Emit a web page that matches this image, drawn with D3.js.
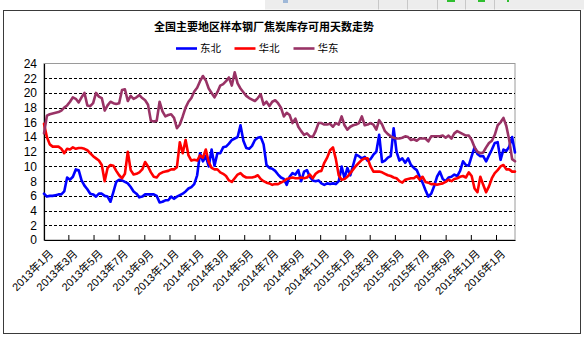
<!DOCTYPE html>
<html>
<head>
<meta charset="utf-8">
<script src="https://cdn.jsdelivr.net/npm/d3@7"></script>
<style>
  html, body { margin: 0; padding: 0; background: #ffffff; }
  svg { display: block; }
  text { font-family: "Liberation Sans", "Noto Sans CJK SC", sans-serif; }
</style>
</head>
<body>
<svg id="chart" width="584" height="340"></svg>
<script>
// ---- data -------------------------------------------------------------
const chartTitle = "全国主要地区样本钢厂焦炭库存可用天数走势";
const seriesNames = ["东北", "华北", "华东"];
const seriesColors = ["#0000ff", "#ff0000", "#993366"];
const yTickValues = [0, 2, 4, 6, 8, 10, 12, 14, 16, 18, 20, 22, 24];

// weekly readings, first week starting 2013-01-01
const dongbei = [
  6.3, 5.9, 6.0, 6.0, 6.1, 6.2, 6.2, 6.6, 8.5, 8.2,
  8.6, 9.6, 9.5, 8.1, 7.4, 6.9, 6.3, 6.2, 5.9, 6.3,
  6.3, 6.0, 5.9, 5.2, 6.5, 7.9, 8.2, 8.1, 7.9, 7.7,
  7.2, 6.6, 6.3, 5.8, 5.9, 6.2, 6.2, 6.2, 6.2, 6.0,
  5.1, 5.2, 5.4, 5.4, 5.9, 5.6, 5.9, 6.1, 6.3, 6.6,
  7.0, 7.2, 7.6, 8.8, 11.8, 10.7, 11.4, 10.0, 12.3, 10.1,
  11.8, 11.8, 12.6, 12.7, 13.1, 13.6, 13.8, 14.0, 15.6, 13.5,
  12.5, 12.4, 12.8, 13.6, 13.9, 14.0, 13.0, 10.2, 9.8, 9.7,
  9.4, 8.9, 8.5, 8.3, 7.5, 8.6, 9.1, 8.9, 9.5, 8.0,
  9.3, 9.5, 8.6, 8.1, 8.0, 8.1, 7.7, 7.5, 7.7, 7.6,
  7.7, 7.6, 8.0, 10.0, 8.4, 9.8, 8.8, 10.2, 11.6, 11.4,
  11.1, 11.3, 10.8, 11.0, 11.6, 12.0, 14.3, 10.6, 10.8, 11.2,
  11.4, 15.2, 12.0, 10.8, 11.1, 10.5, 11.1, 10.2, 9.8, 9.5,
  8.6, 7.8, 6.8, 5.9, 6.3, 7.3, 8.6, 9.3, 8.3, 8.0,
  8.5, 8.6, 8.9, 8.7, 9.4, 10.7, 10.2, 10.1, 11.4, 12.6,
  11.7, 11.4, 11.4, 10.7, 11.5, 12.3, 13.2, 13.3, 10.9, 12.3,
  12.1, 12.7, 14.0, 11.9
];
const huabei = [
  15.8, 14.0, 13.0, 12.7, 12.7, 12.7, 12.4, 11.8, 12.4, 12.3,
  12.6, 12.4, 12.5, 12.5, 12.4, 12.2, 11.8, 11.4, 11.1, 10.8,
  10.2, 8.0, 9.8, 10.2, 10.1, 9.4, 8.8, 8.4, 9.0, 12.0,
  9.5, 8.9, 9.0, 9.2, 9.6, 10.6, 10.0, 9.2, 8.6, 8.5,
  9.0, 9.2, 9.3, 9.4, 9.6, 9.6, 9.9, 13.3, 11.8, 13.6,
  11.5, 10.8, 10.9, 10.8, 11.5, 11.2, 12.3, 10.6, 9.8, 9.6,
  9.6, 9.2, 9.0, 8.7, 8.1, 7.9, 8.4, 8.9, 9.1, 8.7,
  8.5, 8.5, 8.5, 8.6, 8.8, 8.3, 8.0, 7.8, 7.7, 7.5,
  7.6, 7.6, 7.8, 8.0, 8.3, 8.4, 8.5, 8.4, 8.4, 8.5,
  8.4, 8.5, 8.9, 8.4, 9.0, 9.3, 9.4, 10.5, 11.2, 12.2,
  12.6, 11.0, 8.8, 8.2, 8.3, 8.6, 9.1, 9.6, 10.1, 10.5,
  10.9, 11.1, 11.1, 10.0, 9.3, 9.3, 9.3, 9.2, 9.0, 8.8,
  8.7, 8.5, 8.4, 8.0, 7.8, 8.2, 8.3, 8.4, 8.4, 8.7,
  8.2, 8.6, 7.9, 7.8, 7.6, 7.6, 7.5, 7.6, 7.7, 7.9,
  8.2, 8.0, 8.3, 8.4, 8.6, 8.7, 8.5, 9.2, 8.7, 7.0,
  6.5, 8.6, 7.5, 6.5, 7.3, 8.4, 9.1, 9.5, 10.0, 10.2,
  9.6, 9.6, 9.3, 9.3
];
const huadong = [
  14.5, 16.9, 17.1, 17.2, 17.3, 17.4, 17.6, 18.0, 18.3, 18.8,
  19.4, 19.2, 18.7, 19.4, 20.0, 18.3, 18.2, 18.6, 20.0, 19.5,
  19.3, 17.6, 18.3, 18.8, 18.6, 18.5, 18.6, 20.4, 20.5, 18.9,
  19.6, 19.2, 19.4, 19.7, 19.3, 19.0, 18.4, 16.2, 16.1, 16.2,
  18.8, 17.5, 16.8, 17.0, 17.1, 16.6, 15.2, 15.7, 16.8, 18.0,
  18.8, 19.3, 20.2, 20.7, 21.6, 22.3, 21.7, 20.6, 20.0, 19.4,
  20.1, 21.0, 21.2, 21.6, 22.1, 21.0, 22.8, 21.3, 20.6, 20.1,
  19.6, 19.3, 19.1, 18.9, 19.3, 19.8, 18.4, 18.8, 18.2, 18.8,
  19.0, 18.6, 18.0, 16.8, 17.3, 17.0, 15.9, 16.5, 15.4, 14.8,
  14.3, 14.5, 14.1, 14.0, 14.8, 15.9, 15.9, 15.7, 15.7, 15.8,
  15.4, 15.9, 15.7, 16.8, 15.6, 15.0, 15.4, 15.6, 15.7, 15.9,
  16.8, 15.6, 15.7, 15.9, 15.7, 15.0, 16.3, 15.7, 14.8, 14.4,
  14.1, 13.9, 13.8, 13.8, 13.9, 14.1, 14.0, 13.6, 13.7, 13.5,
  13.8, 13.8, 13.8, 13.4, 14.1, 14.1, 14.1, 14.1, 14.2, 13.9,
  14.2, 13.8, 14.5, 14.8, 14.6, 14.4, 14.2, 14.2, 13.6, 12.6,
  12.0, 11.8, 11.9, 12.6, 13.2, 13.5, 14.3, 15.6, 16.0, 16.6,
  15.5, 13.6, 11.0, 10.7
];
const seriesValues = [dongbei, huabei, huadong];

const firstWeek = new Date(Date.UTC(2013, 0, 1));
const weekDates = dongbei.map((_, i) => d3.utcDay.offset(firstWeek, 7 * i));

// ---- layout -----------------------------------------------------------
const svg = d3.select("#chart");
const plot = { left: 44, right: 515, top: 63.5, bottom: 240 };

// surrounding worksheet strip
svg.append("rect").attr("x", 265).attr("y", 0).attr("width", 319).attr("height", 9.5)
  .attr("fill", "#ededed");
[378, 407, 437, 465, 494].forEach(x => {
  svg.append("line").attr("x1", x + 0.5).attr("x2", x + 0.5).attr("y1", 0).attr("y2", 9.5)
    .attr("stroke", "#c8c8c8");
});
[[447, 8], [478, 7], [507, 2]].forEach(([x, w]) => {
  svg.append("rect").attr("x", x).attr("y", 0).attr("width", w).attr("height", 2)
    .attr("fill", "#2fbf2f");
});
svg.append("rect").attr("x", 283).attr("y", 0).attr("width", 5).attr("height", 3)
  .attr("fill", "#9fb8d8");

// chart frame
svg.append("rect").attr("x", 3.5).attr("y", 10.5).attr("width", 577).attr("height", 323)
  .attr("fill", "#ffffff").attr("stroke", "#3a3a3a").attr("stroke-width", 1);

// ---- scales -----------------------------------------------------------
const x = d3.scaleUtc()
  .domain([firstWeek, weekDates[weekDates.length - 1]])
  .range([plot.left, plot.right]);
const y = d3.scaleLinear().domain([0, 24]).range([plot.bottom, plot.top]);

// plot area border (top / right)
svg.append("rect")
  .attr("x", plot.left).attr("y", plot.top)
  .attr("width", plot.right - plot.left).attr("height", plot.bottom - plot.top)
  .attr("fill", "none").attr("stroke", "#9a9a9a").attr("stroke-width", 1);

// dashed horizontal gridlines
svg.append("g")
  .selectAll("line")
  .data(yTickValues.filter(v => v > 0 && v < 24))
  .join("line")
  .attr("x1", plot.left).attr("x2", plot.right)
  .attr("y1", d => Math.round(y(d)) + 0.5).attr("y2", d => Math.round(y(d)) + 0.5)
  .attr("stroke", "#000").attr("stroke-width", 1).attr("stroke-dasharray", "3,2");

// y axis
const yAxis = svg.append("g")
  .attr("transform", `translate(${plot.left},0)`)
  .call(d3.axisLeft(y).tickValues(yTickValues).tickSize(0).tickPadding(7));
yAxis.select(".domain").attr("stroke", "#000").attr("stroke-width", 1.2);
yAxis.selectAll("text").attr("font-size", 12).attr("fill", "#000")
  .style("font-family", "'Liberation Sans', sans-serif");

// x axis
const monthTicks = d3.utcMonth.every(2).range(firstWeek, d3.utcDay.offset(weekDates[weekDates.length - 1], 1));
const xAxis = svg.append("g")
  .attr("transform", `translate(0,${plot.bottom})`)
  .call(d3.axisBottom(x).tickValues(monthTicks).tickSize(-5).tickSizeOuter(0)
    .tickFormat(d => `${d.getUTCFullYear()}年${d.getUTCMonth() + 1}月`));
xAxis.select(".domain").attr("stroke", "#000").attr("stroke-width", 1.2);
xAxis.selectAll(".tick line").attr("stroke", "#000");
xAxis.selectAll("text")
  .attr("font-size", 11).attr("fill", "#000")
  .attr("text-anchor", "end")
  .attr("transform", "translate(4,9) rotate(-45)")
  .attr("x", 0).attr("y", 0).attr("dy", "0.7em");

// ---- series -----------------------------------------------------------
const line = d3.line()
  .x((d, i) => x(weekDates[i]))
  .y(d => y(d));

svg.append("g")
  .selectAll("path")
  .data(seriesValues)
  .join("path")
  .attr("d", d => line(d))
  .attr("fill", "none")
  .attr("stroke", (d, i) => seriesColors[i])
  .attr("stroke-width", 2.6)
  .attr("stroke-linejoin", "round")
  .attr("stroke-linecap", "round");

// ---- title & legend ---------------------------------------------------
svg.append("text")
  .attr("x", 264).attr("y", 31)
  .attr("text-anchor", "middle")
  .attr("font-size", 11).attr("font-weight", "bold").attr("fill", "#000")
  .style("font-family", "'Noto Sans CJK SC', sans-serif")
  .text(chartTitle);

const legendX = [176, 234.5, 293.5];
const legend = svg.append("g");
seriesNames.forEach((name, i) => {
  legend.append("line")
    .attr("x1", legendX[i]).attr("x2", legendX[i] + 21)
    .attr("y1", 48.5).attr("y2", 48.5)
    .attr("stroke", seriesColors[i]).attr("stroke-width", 2.6);
  legend.append("text")
    .attr("x", legendX[i] + 24).attr("y", 52)
    .attr("font-size", 10.5).attr("fill", "#000")
    .style("font-family", "'Noto Sans CJK SC', sans-serif")
    .text(name);
});
</script>
</body>
</html>
